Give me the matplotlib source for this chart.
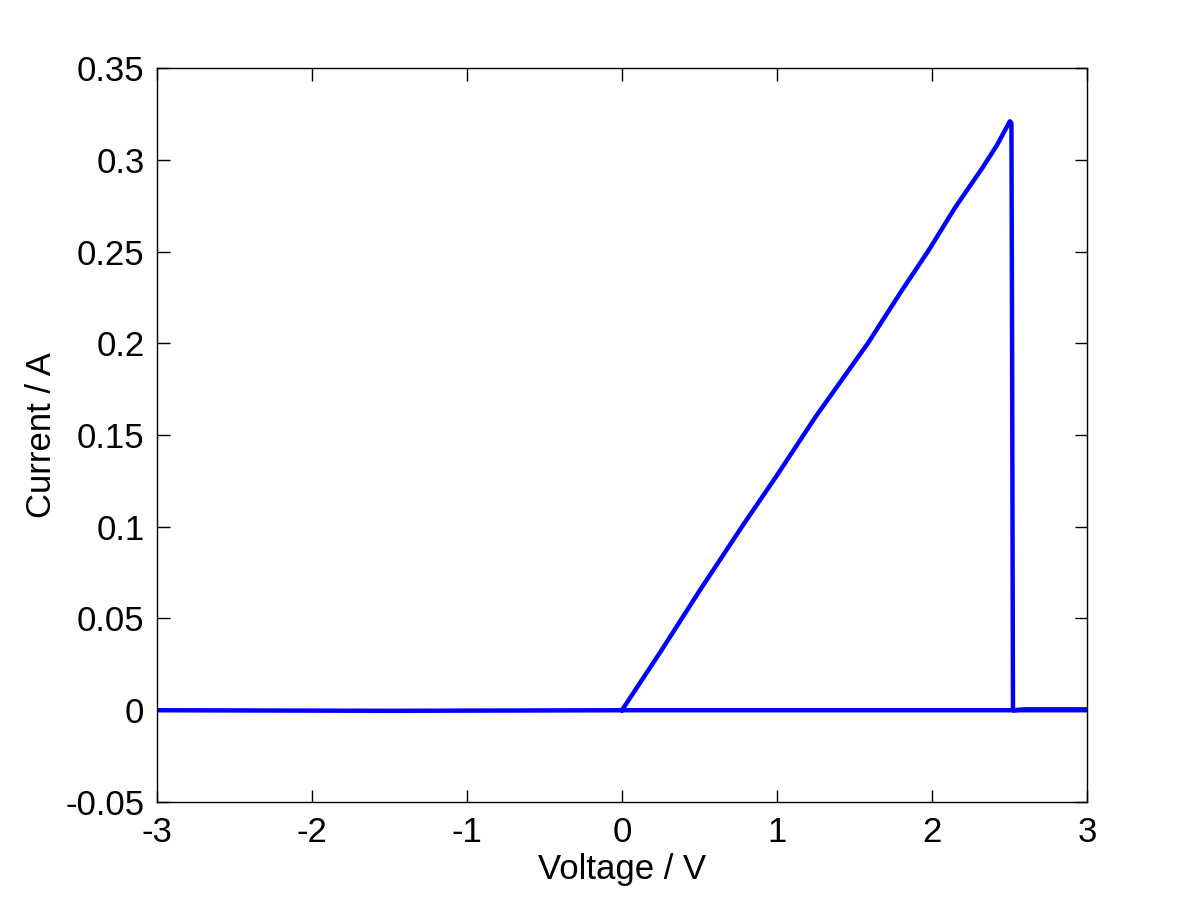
import numpy as np
import matplotlib.pyplot as plt

plt.rcParams['font.family'] = ['Liberation Sans', 'DejaVu Sans']

# I-V sweep: 0 -> peak -> drop -> 3 V, then back to -3 V
voltage = [0.0, 0.25, 0.5, 0.774, 1.0, 1.25, 1.587, 1.8, 1.974, 2.15, 2.329,
           2.42, 2.503, 2.513, 2.516, 2.523, 2.6, 3.0, 3.0, 1.5, 0.0, -1.45, -1.55, -3.0]
current = [0.0, 0.032, 0.065, 0.1, 0.128, 0.16, 0.2, 0.228, 0.25, 0.274, 0.296,
           0.308, 0.321, 0.32, 0.24, 0.0, 0.0005, 0.0005, 0.0, 0.0, 0.0, -0.0003, -0.0003, 0.0]

fig = plt.figure(figsize=(12.01, 9.01), dpi=100)
ax = fig.add_axes([0.1307, 0.1099, 0.905 - 0.1307, 0.9245 - 0.1099])
ax.plot(voltage, current, color='#0000ff', linewidth=3.2)

ax.set_xlim(-3, 3)
ax.set_ylim(-0.05, 0.35)
ax.set_xticks(np.arange(-3, 4, 1))
ax.set_yticks(np.arange(-0.05, 0.351, 0.05))
ax.set_xticklabels(['-3', '-2', '-1', '0', '1', '2', '3'])
ax.set_yticklabels(['-0.05', '0', '0.05', '0.1', '0.15', '0.2', '0.25', '0.3', '0.35'])
ax.tick_params(direction='in', length=9, width=1, labelsize=25, top=True, right=True, pad=10)
ax.tick_params(axis='y', pad=9)
ax.set_xlabel('Voltage / V', fontsize=25, labelpad=3)
ax.set_ylabel('Current / A', fontsize=25, labelpad=5)
for s in ax.spines.values():
    s.set_linewidth(1)

fig.savefig('out.png', dpi=100)
